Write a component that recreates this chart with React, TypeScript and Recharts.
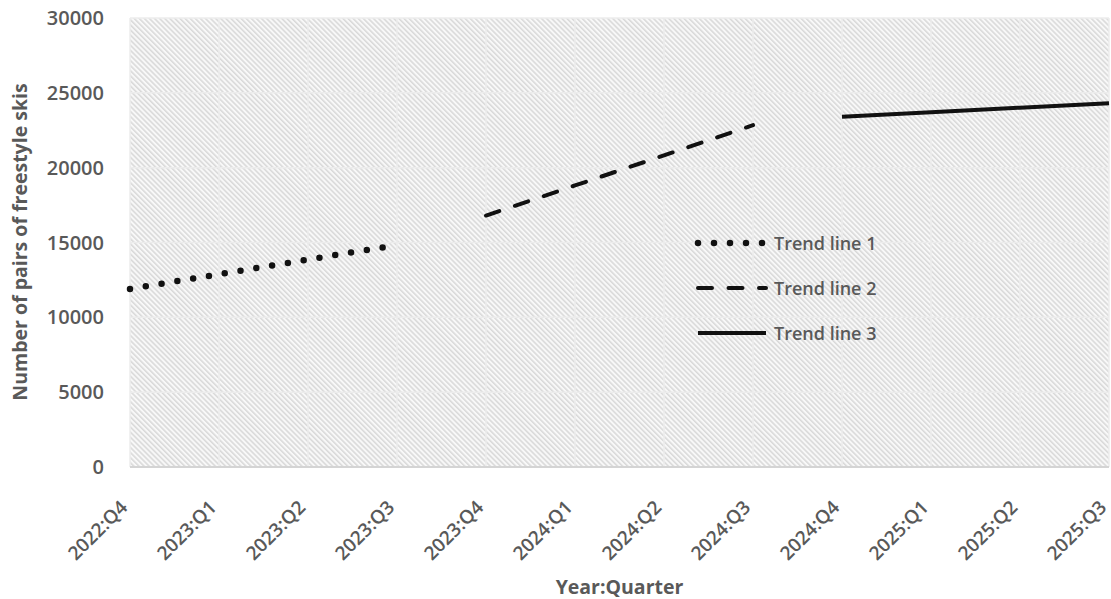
import React from "react";
import {
  CartesianGrid,
  Legend,
  Line,
  LineChart,
  XAxis,
  YAxis,
} from "recharts";

const quarters = [
  "2022:Q4",
  "2023:Q1",
  "2023:Q2",
  "2023:Q3",
  "2023:Q4",
  "2024:Q1",
  "2024:Q2",
  "2024:Q3",
  "2024:Q4",
  "2025:Q1",
  "2025:Q2",
  "2025:Q3",
];

const trend1 = [11900, 12880, 13860, 14830, null, null, null, null, null, null, null, null];
const trend2 = [null, null, null, null, 16800, 18810, 20820, 22840, null, null, null, null];
const trend3 = [null, null, null, null, null, null, null, null, 23400, 23710, 24010, 24310];

const yTicks = [0, 5000, 10000, 15000, 20000, 25000, 30000];

const data = quarters.map((q, i) => ({
  q,
  t1: trend1[i],
  t2: trend2[i],
  t3: trend3[i],
}));

const FONT = "'Open Sans', 'DejaVu Sans', sans-serif";
const TEXT = "#595959";

const series = [
  { key: "t1", name: "Trend line 1", dash: "0 16", width: 6.5, cap: "round" as const },
  { key: "t2", name: "Trend line 2", dash: "14 16.5", width: 4, cap: "round" as const },
  { key: "t3", name: "Trend line 3", dash: undefined, width: 4, cap: "butt" as const },
];

function XTick(props: any) {
  const { x, y, payload } = props;
  const ax = x - 5;
  const ay = y + 30;
  return (
    <text
      x={ax}
      y={ay}
      transform={`rotate(-45 ${ax} ${ay})`}
      textAnchor="end"
      dominantBaseline="middle"
      fill={TEXT}
      fontSize={19}
      fontWeight={600}
      fontFamily={FONT}
    >
      {payload.value}
    </text>
  );
}

function TrendLegend() {
  return (
    <svg width={200} height={135}>
      {series.map((s, i) => {
        const cy = 15 + i * 45;
        return (
          <g key={s.key}>
            <line
              x1={4}
              x2={72}
              y1={cy}
              y2={cy}
              stroke="#111"
              strokeWidth={s.width}
              strokeDasharray={s.dash}
              strokeLinecap={s.cap}
            />
            <text
              x={80}
              y={cy}
              dominantBaseline="central"
              fill={TEXT}
              fontSize={18}
              fontWeight={600}
              fontFamily={FONT}
            >
              {s.name}
            </text>
          </g>
        );
      })}
    </svg>
  );
}

export default function App() {
  return (
    <div style={{ position: "absolute", left: 0, top: 0, background: "#fff" }}>
      <LineChart
        width={1111}
        height={599}
        data={data}
        margin={{ top: 18, right: 2, left: 0, bottom: 0 }}
      >
        <defs>
          <pattern
            id="hatch"
            patternUnits="userSpaceOnUse"
            width={3.6}
            height={3.6}
            patternTransform="rotate(45)"
          >
            <rect width={3.6} height={3.6} fill="#f8f8f8" />
            <line x1={0} y1={1} x2={3.6} y2={1} stroke="#d3d3d3" strokeWidth={1.3} />
          </pattern>
        </defs>
        <CartesianGrid
          fill="url(#hatch)"
          fillOpacity={1}
          stroke="#ececec"
          strokeWidth={1.5}
        />
        <XAxis
          dataKey="q"
          scale="point"
          padding={{ left: 0, right: 0 }}
          interval={0}
          height={132}
          tickLine={false}
          axisLine={{ stroke: "#d4d4d4", strokeWidth: 2 }}
          tick={<XTick />}
          label={{
            value: "Year:Quarter",
            position: "insideBottom",
            offset: 5,
            fill: TEXT,
            fontSize: 19.5,
            fontWeight: 700,
            fontFamily: FONT,
          }}
        />
        <YAxis
          domain={[0, 30000]}
          ticks={yTicks}
          width={130}
          tickLine={false}
          axisLine={false}
          tickSize={0}
          tickMargin={26}
          tick={{ fill: TEXT, fontSize: 20, fontWeight: 600, fontFamily: FONT }}
          label={{
            content: () => (
              <text
                x={19}
                y={242}
                transform="rotate(-90 19 242)"
                textAnchor="middle"
                dominantBaseline="central"
                fill={TEXT}
                fontSize={19.5}
                fontWeight={700}
                fontFamily={FONT}
              >
                Number of pairs of freestyle skis
              </text>
            ),
          }}
        />
        <Legend
          layout="vertical"
          align="center"
          verticalAlign="middle"
          content={() => <TrendLegend />}
          wrapperStyle={{ left: 694, top: 228, width: 200, height: 135 }}
        />
        {series.map((s) => (
          <Line
            key={s.key}
            dataKey={s.key}
            name={s.name}
            type="linear"
            stroke="#111"
            strokeWidth={s.width}
            strokeDasharray={s.dash}
            strokeLinecap={s.cap}
            dot={false}
            activeDot={false}
            connectNulls={false}
            isAnimationActive={false}
          />
        ))}
      </LineChart>
    </div>
  );
}
